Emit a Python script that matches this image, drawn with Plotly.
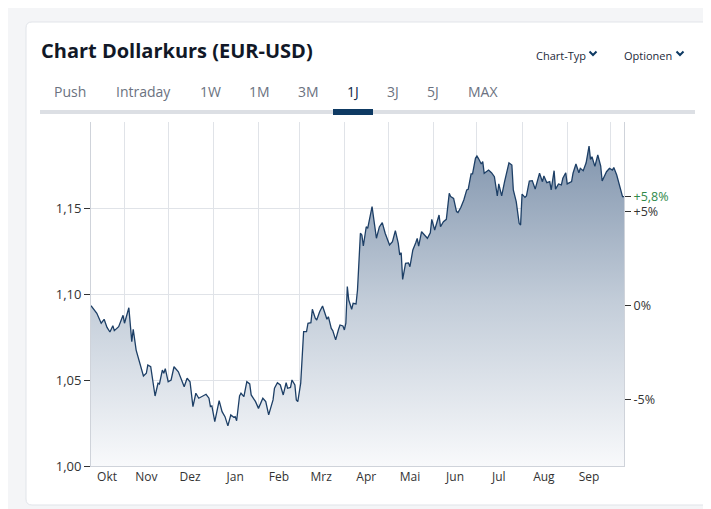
import plotly.graph_objects as go

# ---------------- data ----------------
dates = [
    "2024-10-09", "2024-10-13", "2024-10-16", "2024-10-18", "2024-10-20", "2024-10-22", "2024-10-24",
    "2024-10-25", "2024-10-28", "2024-10-31",
    "2024-11-01", "2024-11-04", "2024-11-06", "2024-11-07", "2024-11-09", "2024-11-11", "2024-11-14",
    "2024-11-16", "2024-11-17", "2024-11-19", "2024-11-20", "2024-11-22", "2024-11-24", "2024-11-25",
    "2024-11-27", "2024-11-28", "2024-11-29",
    "2024-12-01", "2024-12-03", "2024-12-05", "2024-12-08", "2024-12-12", "2024-12-14", "2024-12-16",
    "2024-12-18", "2024-12-20", "2024-12-22", "2024-12-24", "2024-12-27", "2024-12-29", "2024-12-30",
    "2024-12-31",
    "2025-01-02", "2025-01-05", "2025-01-07", "2025-01-09", "2025-01-11", "2025-01-13", "2025-01-15",
    "2025-01-16", "2025-01-17", "2025-01-19", "2025-01-20", "2025-01-22", "2025-01-24", "2025-01-26",
    "2025-01-27", "2025-01-30",
    "2025-02-01", "2025-02-04", "2025-02-06", "2025-02-08", "2025-02-11", "2025-02-12", "2025-02-14",
    "2025-02-16", "2025-02-18", "2025-02-20", "2025-02-21", "2025-02-23", "2025-02-24", "2025-02-26",
    "2025-02-27", "2025-02-28",
    "2025-03-02", "2025-03-04", "2025-03-06", "2025-03-07", "2025-03-09", "2025-03-10", "2025-03-12",
    "2025-03-13", "2025-03-15", "2025-03-17", "2025-03-18", "2025-03-20", "2025-03-21", "2025-03-23",
    "2025-03-24", "2025-03-26", "2025-03-28", "2025-03-29", "2025-03-31",
    "2025-04-01", "2025-04-02", "2025-04-03", "2025-04-04", "2025-04-06", "2025-04-07", "2025-04-09",
    "2025-04-10", "2025-04-11", "2025-04-12", "2025-04-13", "2025-04-14", "2025-04-16", "2025-04-17",
    "2025-04-20", "2025-04-23", "2025-04-25", "2025-04-27", "2025-04-29",
    "2025-05-02", "2025-05-04", "2025-05-06", "2025-05-08", "2025-05-09", "2025-05-10", "2025-05-11",
    "2025-05-13", "2025-05-15", "2025-05-16", "2025-05-18", "2025-05-20", "2025-05-21", "2025-05-22",
    "2025-05-24", "2025-05-26", "2025-05-28", "2025-05-30", "2025-05-31",
    "2025-06-02", "2025-06-05", "2025-06-06", "2025-06-08", "2025-06-10", "2025-06-12", "2025-06-13",
    "2025-06-15", "2025-06-17", "2025-06-18", "2025-06-20", "2025-06-22", "2025-06-24", "2025-06-25",
    "2025-06-27", "2025-06-28", "2025-06-30",
    "2025-07-01", "2025-07-02", "2025-07-04", "2025-07-05", "2025-07-06", "2025-07-09", "2025-07-11",
    "2025-07-13", "2025-07-15", "2025-07-16", "2025-07-18", "2025-07-20", "2025-07-23", "2025-07-25",
    "2025-07-26", "2025-07-28", "2025-07-30", "2025-07-31",
    "2025-08-01", "2025-08-03", "2025-08-04", "2025-08-06", "2025-08-08", "2025-08-10", "2025-08-12",
    "2025-08-13", "2025-08-15", "2025-08-16", "2025-08-18", "2025-08-20", "2025-08-21", "2025-08-23",
    "2025-08-24", "2025-08-26", "2025-08-28", "2025-08-29", "2025-08-31",
    "2025-09-01", "2025-09-04", "2025-09-05", "2025-09-07", "2025-09-09", "2025-09-10", "2025-09-12",
    "2025-09-14", "2025-09-16", "2025-09-17", "2025-09-18", "2025-09-20", "2025-09-22", "2025-09-24",
    "2025-09-25", "2025-09-28", "2025-09-30",
    "2025-10-02", "2025-10-03", "2025-10-05", "2025-10-07", "2025-10-09", "2025-10-10",
]
eurusd = [
    1.0932, 1.0888, 1.0830, 1.0853, 1.0806, 1.0779, 1.0816,
    1.0787, 1.0810, 1.0876,
    1.0830, 1.0920, 1.0723, 1.0795, 1.0674, 1.0616, 1.0523,
    1.0539, 1.0587, 1.0577, 1.0510, 1.0407, 1.0481, 1.0477,
    1.0558, 1.0539, 1.0566,
    1.0490, 1.0500, 1.0577, 1.0548, 1.0461, 1.0510, 1.0490,
    1.0345, 1.0423, 1.0394, 1.0403, 1.0417, 1.0394, 1.0345,
    1.0349,
    1.0258, 1.0380, 1.0316, 1.0287, 1.0233, 1.0297, 1.0283,
    1.0287, 1.0263, 1.0407, 1.0423, 1.0403, 1.0490, 1.0477,
    1.0413, 1.0374,
    1.0335, 1.0394, 1.0374, 1.0297, 1.0384, 1.0452, 1.0484,
    1.0471, 1.0413, 1.0484, 1.0452, 1.0457, 1.0500, 1.0471,
    1.0384, 1.0374,
    1.0481, 1.0781, 1.0781, 1.0830, 1.0833, 1.0911, 1.0859,
    1.0849, 1.0897, 1.0930, 1.0907, 1.0853, 1.0868, 1.0800,
    1.0787, 1.0733, 1.0795, 1.0820, 1.0814,
    1.0791, 1.0830, 1.1043, 1.0965, 1.0911, 1.0946, 1.0942,
    1.1023, 1.1217, 1.1353, 1.1343, 1.1279, 1.1391, 1.1382,
    1.1508, 1.1324, 1.1390, 1.1415, 1.1353,
    1.1285, 1.1304, 1.1368, 1.1294, 1.1227, 1.1240, 1.1085,
    1.1178, 1.1181, 1.1159, 1.1256, 1.1298, 1.1323, 1.1279,
    1.1362, 1.1343, 1.1324, 1.1356, 1.1434,
    1.1372, 1.1459, 1.1391, 1.1420, 1.1434, 1.1585, 1.1566,
    1.1556, 1.1479, 1.1473, 1.1504, 1.1547, 1.1605, 1.1609,
    1.1698, 1.1698, 1.1789,
    1.1802, 1.1789, 1.1756, 1.1770, 1.1702, 1.1721, 1.1705,
    1.1682, 1.1570, 1.1640, 1.1570, 1.1653, 1.1763, 1.1750,
    1.1605, 1.1537, 1.1411, 1.1401,
    1.1581, 1.1562, 1.1570, 1.1657, 1.1659, 1.1610, 1.1667,
    1.1702, 1.1653, 1.1686, 1.1647, 1.1653, 1.1605, 1.1717,
    1.1610, 1.1640, 1.1634, 1.1673, 1.1705,
    1.1640, 1.1653, 1.1702, 1.1756, 1.1705, 1.1731, 1.1717,
    1.1763, 1.1860, 1.1783, 1.1798, 1.1742, 1.1808, 1.1744,
    1.1657, 1.1711, 1.1731,
    1.1720, 1.1735, 1.1692, 1.1624, 1.1566, 1.1566,
]

month_labels = ["Okt", "Nov", "Dez", "Jan", "Feb", "Mrz", "Apr", "Mai", "Jun", "Jul", "Aug", "Sep"]
month_label_pos = ["2024-10-20", "2024-11-16", "2024-12-16", "2025-01-16", "2025-02-15", "2025-03-16",
                   "2025-04-16", "2025-05-16", "2025-06-16", "2025-07-16", "2025-08-16", "2025-09-16"]
price_ticks = [1.00, 1.05, 1.10, 1.15]
pct_ticks = [-5, 0, 5]
tabs = ["Push", "Intraday", "1W", "1M", "3M", "1J", "3J", "5J", "MAX"]

# ---------------- geometry (screen pixels; page has an 8px body margin) ----------------
W, H = 711, 509
OFF = 8
L, R, T, B = 91, 624, 122, 466
PW, PH = R - L, B - T


def px(x):
    return (x - L) / PW


def py(y):
    return (B - y) / PH


base = eurusd[0]
last = eurusd[-1]
chg = (last / base - 1) * 100

fig = go.Figure()
fig.add_trace(go.Scatter(
    x=dates, y=eurusd, mode="lines",
    line=dict(color="#1d3f66", width=1.3),
    fill="tozeroy",
    fillgradient=dict(type="vertical", start=1.0, stop=1.19,
                      colorscale=[[0, "#f8f9fb"], [0.5, "#c3cdd9"], [1, "#7f93ac"]]),
    hoverinfo="skip", showlegend=False,
))
# right axis helper trace (invisible)
fig.add_trace(go.Scatter(x=[dates[0]], y=[base], yaxis="y2", mode="markers",
                         marker=dict(opacity=0), hoverinfo="skip", showlegend=False))

green = "#2f8a4a"
r_vals = [base * (1 + p / 100) for p in pct_ticks] + [last]
r_text = [("%+d%%" % p) if p != 0 else "0%" for p in pct_ticks]
r_text = r_text + ["<span style='color:%s'>%s</span>" % (green, ("%+.1f%%" % chg).replace(".", ","))]

axis_font = dict(family="Open Sans, sans-serif", size=12, color="#333333")
tick_font = dict(family="Open Sans, sans-serif", size=12.5, color="#333333")

fig.update_layout(
    width=W, height=H,
    margin=dict(l=L - OFF, r=W - (R - OFF), t=T - OFF, b=H - (B - OFF), pad=0),
    paper_bgcolor="#f4f5f7",
    plot_bgcolor="rgba(0,0,0,0)",
    separators=",.",
    font=dict(family="Open Sans, sans-serif"),
    xaxis=dict(
        type="date", range=[dates[0], dates[-1]],
        tickvals=month_label_pos, ticktext=month_labels, ticks="",
        showgrid=False, tickfont=axis_font,
        minor=dict(dtick="M1", tick0="2024-11-01", showgrid=True, gridcolor="#e0e3e8", gridwidth=1, ticks=""),
        showline=True, linecolor="#cfd3da", linewidth=1, mirror=False,
        zeroline=False, fixedrange=True,
    ),
    yaxis=dict(
        range=[1.0, 1.2], tickvals=price_ticks, tickformat=".2f",
        ticks="outside", ticklen=6, tickcolor="#333333", tickwidth=1,
        showgrid=True, gridcolor="#e0e3e8", gridwidth=1,
        showline=True, linecolor="#cfd3da", linewidth=1,
        zeroline=False, tickfont=dict(family="Open Sans, sans-serif", size=13, color="#333333"),
    ),
    yaxis2=dict(
        range=[1.0, 1.2], overlaying="y", side="right",
        tickvals=r_vals, ticktext=r_text,
        ticks="outside", ticklen=6, tickcolor="#333333", tickwidth=1,
        showgrid=False, showline=True, linecolor="#cfd3da", linewidth=1,
        zeroline=False, tickfont=tick_font,
    ),
)

shapes = []
# card
cx0, cx1, cy0, cy1, rr = 26, 722, 22, 505, 6
path = ("M %f,%f L %f,%f Q %f,%f %f,%f L %f,%f Q %f,%f %f,%f L %f,%f Q %f,%f %f,%f L %f,%f Q %f,%f %f,%f Z" % (
    px(cx0 + rr), py(cy0), px(cx1 - rr), py(cy0), px(cx1), py(cy0), px(cx1), py(cy0 + rr),
    px(cx1), py(cy1 - rr), px(cx1), py(cy1), px(cx1 - rr), py(cy1),
    px(cx0 + rr), py(cy1), px(cx0), py(cy1), px(cx0), py(cy1 - rr),
    px(cx0), py(cy0 + rr), px(cx0), py(cy0), px(cx0 + rr), py(cy0)))
shapes.append(dict(type="path", xref="paper", yref="paper", path=path,
                   fillcolor="white", line=dict(color="#e1e4e9", width=1), layer="below"))
# tab underline
shapes.append(dict(type="rect", xref="paper", yref="paper", x0=px(40), x1=px(695), y0=py(114), y1=py(110),
                   fillcolor="#dcdfe4", line=dict(width=0), layer="below"))
shapes.append(dict(type="rect", xref="paper", yref="paper", x0=px(333), x1=px(373), y0=py(115), y1=py(109),
                   fillcolor="#0e3a63", line=dict(width=0), layer="below"))
# chevrons
for cx in (593, 680):
    shapes.append(dict(type="path", xref="paper", yref="paper",
                       path="M %f,%f L %f,%f L %f,%f" % (px(cx - 3.5), py(51.5), px(cx), py(55), px(cx + 3.5), py(51.5)),
                       line=dict(color="#0e3a63", width=2)))
fig.update_layout(shapes=shapes)

ann = []
ann.append(dict(text="<b>Chart Dollarkurs (EUR-USD)</b>", x=px(39), y=py(50), xref="paper", yref="paper",
                xanchor="left", yanchor="middle", showarrow=False,
                font=dict(family="Open Sans, sans-serif", size=20, color="#111827")))
ann.append(dict(text="Chart-Typ", x=px(534), y=py(55), xref="paper", yref="paper",
                xanchor="left", yanchor="middle", showarrow=False,
                font=dict(family="Open Sans, sans-serif", size=11, color="#1b2a3a")))
ann.append(dict(text="Optionen", x=px(622), y=py(55), xref="paper", yref="paper",
                xanchor="left", yanchor="middle", showarrow=False,
                font=dict(family="Open Sans, sans-serif", size=11, color="#1b2a3a")))
tab_x = [70, 143, 210, 259, 308, 353, 393, 433, 483]
for t, x in zip(tabs, tab_x):
    sel = (t == "1J")
    ann.append(dict(text=t, x=px(x), y=py(91), xref="paper", yref="paper",
                    xanchor="center", yanchor="middle", showarrow=False,
                    font=dict(family="Open Sans, sans-serif", size=14, color="#0e2a47" if sel else "#6b7280")))
fig.update_layout(annotations=ann)

fig.write_html("out.html")
